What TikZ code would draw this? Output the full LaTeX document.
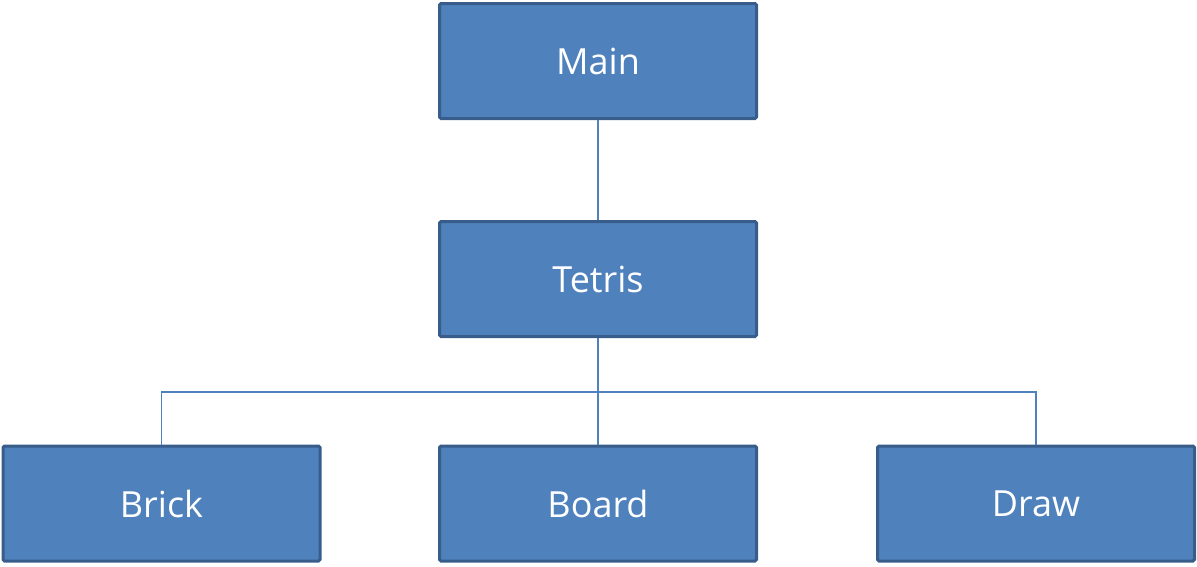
\documentclass[tikz,border=0pt]{standalone}
\usepackage{fontspec}
\setmainfont{Open Sans}
\usepackage{tikz}
\usetikzlibrary{positioning}
\definecolor{boxfill}{HTML}{4F81BD}
\definecolor{boxedge}{HTML}{385D8A}
\tikzset{
  module/.style={draw=boxedge, fill=boxfill, line width=3pt, rounded corners=1.5pt,
    minimum width=317pt, minimum height=115pt, inner sep=0pt,
    text=white, font=\fontsize{36}{42}\selectfont},
  link/.style={draw=boxfill, line width=1.6pt},
}
\begin{document}
\begin{tikzpicture}[x=1pt, y=-1pt]
  \useasboundingbox (0,0) rectangle (1197,566);
  \node[module] (main) at (598,61) {Main};
  \node[module] (tetris) at (598,279) {Tetris};
  \node[module] (brick) at (161.5,503.5) {Brick};
  \node[module] (board) at (598,503.5) {Board};
  \node[module] (draw) at (1036,503.5) {Draw};
  \coordinate (bus) at (598,392);
  \draw[link] (main) -- (tetris);
  \draw[link] (tetris) -- (bus);
  \draw[link] (bus) -| (brick);
  \draw[link] (bus) -| (draw);
  \draw[link] (bus) -- (board);
\end{tikzpicture}
\end{document}
